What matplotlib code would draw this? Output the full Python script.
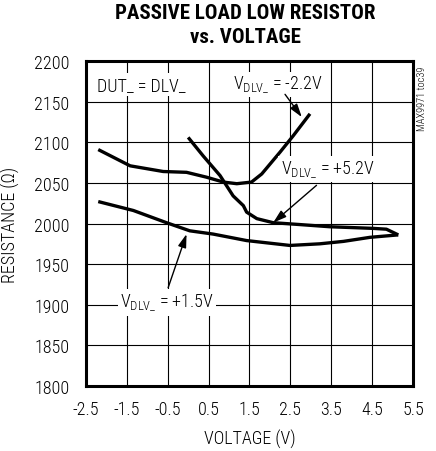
import matplotlib
matplotlib.use("Agg")
import matplotlib.pyplot as plt
from matplotlib import font_manager

names = {f.name for f in font_manager.fontManager.ttflist}
face = "Roboto Condensed" if "Roboto Condensed" in names else "DejaVu Sans"
plt.rcParams["font.family"] = [face, "DejaVu Sans"]
plt.rcParams["font.weight"] = "light"
plt.rcParams["axes.labelweight"] = "light"
plt.rcParams["mathtext.default"] = "regular"

# V_DLV_ = -2.2V
v_m22 = [-2.2, -1.42, -0.61, -0.04, 0.45, 0.86, 1.19, 1.55, 1.80, 2.25, 2.57, 2.98]
r_m22 = [2091, 2071, 2064, 2063, 2057, 2051, 2049, 2051, 2061, 2088, 2108, 2135]

# V_DLV_ = +5.2V
v_p52 = [0.0, 0.37, 0.78, 1.10, 1.35, 1.43, 1.68, 2.08, 2.65, 3.47, 4.53, 4.85, 5.14]
r_p52 = [2106, 2083, 2059, 2034, 2022, 2014, 2006, 2001, 1999, 1996, 1994, 1993, 1986]

# V_DLV_ = +1.5V
v_p15 = [-2.2, -1.34, -0.53, 0.04, 0.61, 1.43, 2.49, 3.22, 3.80, 4.45, 5.14]
r_p15 = [2027, 2016, 2001, 1991, 1987, 1979, 1973, 1975, 1978, 1983, 1986]

x_ticks = [-2.5, -1.5, -0.5, 0.5, 1.5, 2.5, 3.5, 4.5, 5.5]
y_ticks = [1800, 1850, 1900, 1950, 2000, 2050, 2100, 2150, 2200]

fig = plt.figure(figsize=(4.36, 4.52), dpi=100)
ax = fig.add_axes([0.1972, 0.1438, 0.75, 0.719])

ax.set_xlim(-2.5, 5.5)
ax.set_ylim(1800, 2200)
ax.set_xticks(x_ticks)
ax.set_xticklabels([f"{t:g}" for t in x_ticks])
ax.set_yticks(y_ticks)
ax.tick_params(length=0, labelsize=13)
ax.tick_params(axis="y", pad=12)
ax.tick_params(axis="x", pad=10)
ax.grid(True, color="black", linewidth=0.8)
for s in ax.spines.values():
    s.set_linewidth(2.2)

for v, r in [(v_m22, r_m22), (v_p52, r_p52), (v_p15, r_p15)]:
    ax.plot(v, r, color="black", linewidth=2.4, solid_joinstyle="round",
            solid_capstyle="butt", zorder=3)

box = dict(facecolor="white", edgecolor="none", pad=1.5)
ax.text(-2.24, 2171, "DUT_ = DLV_", fontsize=13, va="center", ha="left",
        bbox=box, zorder=4)
ax.text(2.2, 2171, r"V$_{DLV\_}$ = -2.2V", fontsize=13,
        va="center", ha="center", bbox=box, zorder=4)
ax.text(3.41, 2067, r"V$_{DLV\_}$ = +5.2V", fontsize=13,
        va="center", ha="center", bbox=box, zorder=4)
ax.text(-0.51, 1903, r"V$_{DLV\_}$ = +1.5V", fontsize=13,
        va="center", ha="center", bbox=box, zorder=4)

arrow = dict(arrowstyle="-|>,head_length=0.8,head_width=0.25", color="black",
             linewidth=1.0, shrinkA=0, shrinkB=0)
ax.annotate("", xy=(2.78, 2131), xytext=(2.37, 2159), arrowprops=arrow, zorder=5)
ax.annotate("", xy=(2.08, 2001), xytext=(3.14, 2047), arrowprops=arrow, zorder=5)
ax.annotate("", xy=(-0.04, 1987), xytext=(-0.49, 1921), arrowprops=arrow, zorder=5)

ax.set_xlabel("VOLTAGE (V)", fontsize=13, fontweight="light", labelpad=8)
ax.set_ylabel("RESISTANCE (Ω)", fontsize=13, fontweight="light", labelpad=10)

fig.text(0.562, 0.970, "PASSIVE LOAD LOW RESISTOR", fontsize=15,
         fontweight="heavy", ha="center", va="center")
fig.text(0.562, 0.917, "vs. VOLTAGE", fontsize=15, fontweight="heavy",
         ha="center", va="center")
fig.text(0.968, 0.781, "MAX9971 toc39", fontsize=7.5, rotation=90,
         ha="center", va="center")

fig.savefig("out.png", dpi=100)
